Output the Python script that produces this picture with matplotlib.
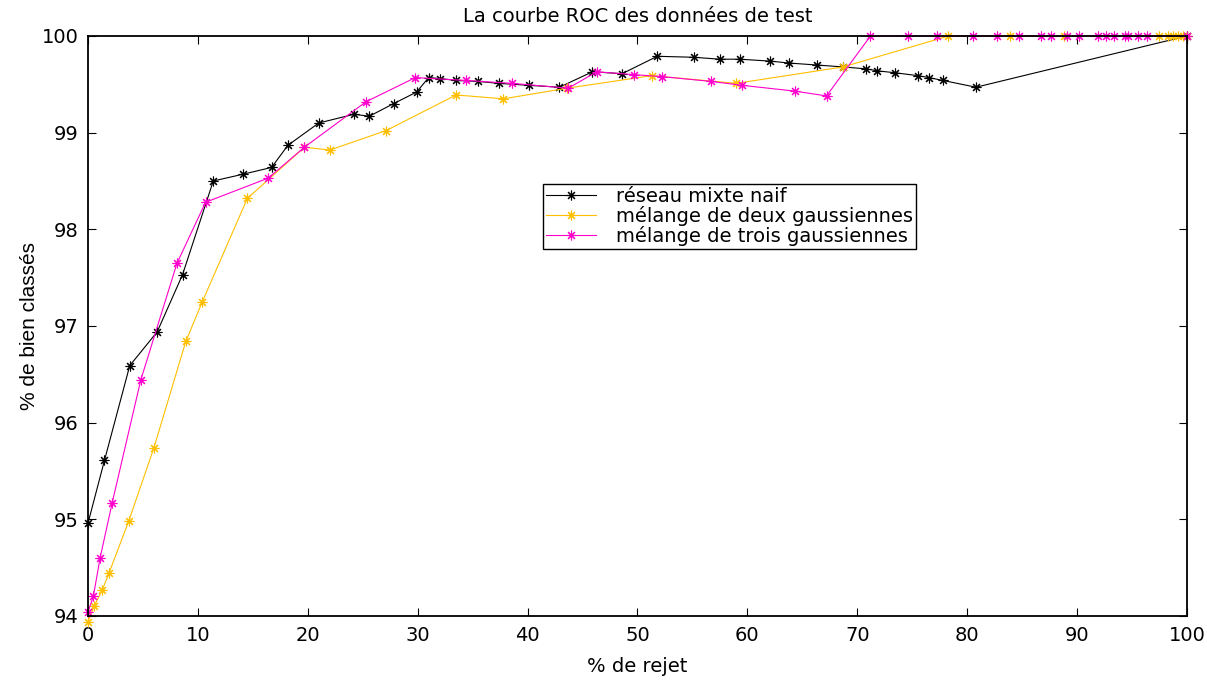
import matplotlib.pyplot as plt

# reseau mixte naif
x_naif = [0, 1.5, 3.8, 6.3, 8.6, 11.4, 14.1, 16.7, 18.2, 21.0, 24.2, 25.6, 27.8, 29.9,
          31.0, 32.0, 33.5, 35.5, 37.4, 40.1, 42.9, 45.9, 48.6, 51.8, 55.1, 57.5, 59.3,
          62.1, 63.8, 66.3, 68.7, 70.8, 71.8, 73.4, 75.5, 76.5, 77.8, 80.8, 100]
y_naif = [94.96, 95.61, 96.59, 96.94, 97.53, 98.50, 98.57, 98.64, 98.87, 99.10, 99.19, 99.17,
          99.30, 99.42, 99.57, 99.56, 99.54, 99.53, 99.51, 99.49, 99.47, 99.63, 99.61, 99.79,
          99.78, 99.76, 99.76, 99.74, 99.72, 99.70, 99.68, 99.66, 99.64, 99.62, 99.59, 99.57,
          99.54, 99.47, 100]

# melange de deux gaussiennes
x_deux = [0, 0.55, 1.3, 1.9, 3.7, 6.0, 8.9, 10.4, 14.5, 19.7, 22.0, 27.1, 33.5, 37.8,
          43.6, 51.3, 59.0, 68.7, 78.3, 83.9, 88.8, 97.5, 98.3, 98.7, 99.2, 99.6, 100]
y_deux = [93.94, 94.10, 94.27, 94.44, 94.98, 95.74, 96.84, 97.25, 98.32, 98.85, 98.82, 99.02,
          99.39, 99.35, 99.46, 99.59, 99.51, 99.68, 100, 100, 100, 100, 100, 100, 100, 100, 100]

# melange de trois gaussiennes
x_trois = [0, 0.5, 1.1, 2.2, 4.8, 8.1, 10.7, 16.4, 19.7, 25.3, 29.8, 34.4, 38.6, 43.7,
           46.3, 49.7, 52.2, 56.7, 59.5, 64.3, 67.2, 71.2, 74.6, 77.3, 80.5, 82.7, 84.7,
           86.7, 87.6, 89.1, 90.2, 91.9, 92.6, 93.4, 94.4, 94.6, 95.5, 96.4, 100]
y_trois = [94.04, 94.21, 94.60, 95.17, 96.44, 97.65, 98.28, 98.53, 98.85, 99.32, 99.57, 99.54,
           99.51, 99.46, 99.63, 99.60, 99.58, 99.53, 99.49, 99.43, 99.38, 100, 100, 100, 100,
           100, 100, 100, 100, 100, 100, 100, 100, 100, 100, 100, 100, 100, 100]

labels = ["réseau mixte naif", "mélange de deux gaussiennes", "mélange de trois gaussiennes"]
colors = ["black", "#ffbf00", "#ff00cc"]

plt.rcParams['font.family'] = ['DejaVu Sans']

fig = plt.figure(figsize=(12.07, 6.83), dpi=100)
ax = fig.add_axes([0.0729, 0.0981, 0.9105, 0.8492])

star = (8, 2, 0)
for xs, ys, lab, col in zip([x_naif, x_deux, x_trois], [y_naif, y_deux, y_trois], labels, colors):
    ax.plot(xs, ys, color=col, lw=0.8, marker=star, markersize=7, markeredgewidth=0.8,
            label=lab, clip_on=False)

ax.set_xlim(0, 100)
ax.set_ylim(94, 100)
ax.set_xticks(range(0, 101, 10))
ax.set_yticks(range(94, 101))
ax.tick_params(direction='in', top=True, right=True, length=6, width=0.8, labelsize=14, pad=7)
for s in ax.spines.values():
    s.set_linewidth(1.3)

ax.set_title("La courbe ROC des données de test", fontsize=14, pad=10)
ax.set_xlabel("% de rejet", fontsize=14, labelpad=9)
ax.set_ylabel("% de bien classés", fontsize=15, labelpad=2,
              family=['Liberation Sans Narrow', 'Liberation Sans'])

leg = ax.legend(loc='upper left', bbox_to_anchor=(0.414, 0.745), fontsize=14,
                frameon=True, fancybox=False, edgecolor='black', framealpha=1,
                handlelength=2.6, borderpad=0.15, labelspacing=0.0, handletextpad=1.0,
                borderaxespad=0)
leg.get_frame().set_linewidth(1.0)

fig.savefig("out.png", dpi=100)
